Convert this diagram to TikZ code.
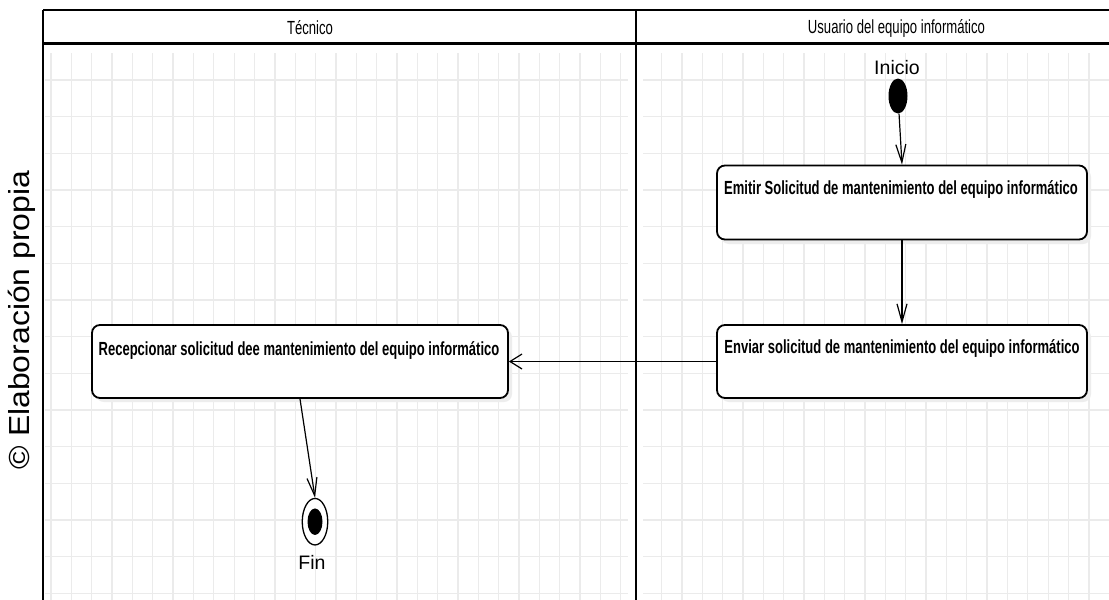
\documentclass[tikz,border=0pt]{standalone}
\usepackage{fontspec}
\setmainfont{Liberation Sans}
\newfontfamily\hdrfont[FakeStretch=0.69]{Liberation Sans}
\newfontfamily\boxfont[FakeStretch=0.685]{Liberation Sans}
\newfontfamily\sidefont[FakeStretch=1.1]{Liberation Sans}
\usetikzlibrary{shapes.geometric,arrows.meta}
\begin{document}
\begin{tikzpicture}[x=1pt,y=-1pt,
 gridline/.style={draw=black!8, line width=1.3pt},
 actbox/.style={draw, line width=1.8pt, rounded corners=8pt, fill=white, minimum width=370pt, minimum height=74pt, inner sep=0pt},
 shadowbox/.style={fill=black!7, rounded corners=8pt},
 boxtext/.style={font=\boxfont\bfseries\fontsize{19}{20}\selectfont, inner sep=0pt},
 hdr/.style={font=\hdrfont\fontsize{19}{21}\selectfont, inner sep=0pt},
 lbl/.style={font=\fontsize{19.5}{21}\selectfont, inner sep=0pt},
 flowv/.style={line width=1.2pt, -{Straight Barb[length=18pt,width=10pt,line width=1.2pt]}},
 flowh/.style={line width=1.2pt, -{Straight Barb[length=12pt,width=15pt,line width=1.2pt]}},
]
\useasboundingbox (0,0) rectangle (1109,600);
\fill[white] (0,0) rectangle (1109,600);
% grid
\foreach \k in {0,...,14}{
  \draw[gridline] (45,{80+36.67*\k}) -- (628,{80+36.67*\k});
  \draw[gridline] (643,{80+36.67*\k}) -- (1109,{80+36.67*\k});
}
\foreach \k in {0,...,28}{
  \draw[gridline] ({51+20.35*\k},53) -- ({51+20.35*\k},600);
}
\foreach \k in {30,...,52}{
  \draw[gridline] ({51+20.35*\k},53) -- ({51+20.35*\k},600);
}
% swimlane frame
\draw[line width=1.5pt] (43,10) -- (1109,10);
\draw[line width=3pt] (43,43.5) -- (1109,43.5);
\draw[line width=2pt] (43,10) -- (43,600);
\draw[line width=2.2pt] (636,10) -- (636,600);
\node[hdr] (lane1) at (310,28) {Técnico};
\node[hdr] (lane2) at (896.5,28) {Usuario del equipo informático};
% side note
\node[rotate=90, inner sep=0pt, font=\sidefont\fontsize{29}{30}\selectfont] (side) at (22,320) {© Elaboración propia};
% shadows
\fill[shadowbox] (721,169) rectangle (1091,244);
\fill[shadowbox] (721,329) rectangle (1091,402);
\fill[shadowbox] (96,329) rectangle (512,402);
% activity nodes
\node[ellipse, fill=black, minimum width=19pt, minimum height=35pt, inner sep=0pt] (ini) at (898,96) {};
\node[lbl] (initxt) at (897,68) {Inicio};
\node[actbox] (emitir) at (902,202.5) {};
\node[boxtext] (emitirtxt) at (901,190) {Emitir Solicitud de mantenimiento del equipo informático};
\node[actbox, minimum height=73pt] (enviar) at (902,361.5) {};
\node[boxtext] (enviartxt) at (902,348) {Enviar solicitud de mantenimiento del equipo informático};
\node[actbox, minimum width=416pt, minimum height=73pt] (recep) at (300,361.5) {};
\node[boxtext] (receptxt) at (299,350) {Recepcionar solicitud dee mantenimiento del equipo informático};
\node[ellipse, draw, line width=1.3pt, fill=white, minimum width=25.5pt, minimum height=46.5pt, inner sep=0pt] (fin) at (315,521.7) {};
\node[ellipse, fill=black, minimum width=15pt, minimum height=26.5pt, inner sep=0pt] (fincore) at (fin.center) {};
\node[lbl] (fintxt) at (312,562) {Fin};
% flows
\draw[flowv] (ini) -- (emitir.north);
\draw[flowv] (emitir.south) -- (enviar.north);
\draw[flowh] (enviar.west) -- (recep.east);
\draw[flowv] (recep.south) -- (fin.north);
\end{tikzpicture}
\end{document}
